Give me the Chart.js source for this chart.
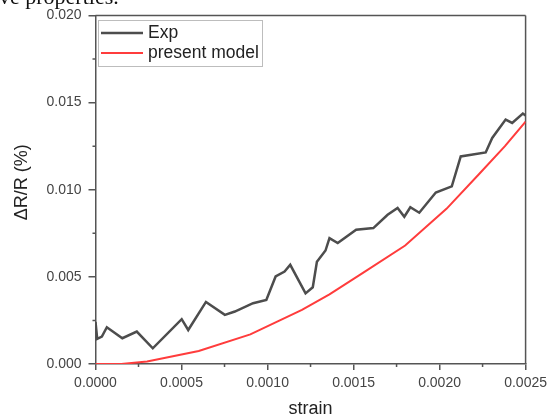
<!DOCTYPE html>
<html><head><meta charset="utf-8">
<script src="https://cdn.jsdelivr.net/npm/chart.js@4.4.0/dist/chart.umd.min.js"></script>
<style>
html,body{margin:0;padding:0;background:#fff;overflow:hidden;width:552px;height:416px;}
#wrap{position:relative;width:552px;height:416px;overflow:hidden;}
canvas{position:absolute;left:0;top:0;}
#cap{position:absolute;left:-1px;top:-14px;font-family:"Liberation Serif","Times New Roman",serif;font-size:22px;line-height:22px;color:#111;white-space:nowrap;}
</style></head><body>
<div id="wrap"><canvas id="c" width="552" height="416"></canvas><div id="cap">ve properties.</div></div>
<script>
// ---- data ----
const expStrain = [0, 0.00001, 0.000037, 0.000066, 0.000156, 0.00024, 0.000333, 0.000501, 0.000539, 0.000642, 0.000752, 0.00081, 0.000916, 0.000993, 0.001047, 0.001099, 0.001132, 0.001221, 0.001263, 0.001287, 0.001337, 0.00136, 0.001408, 0.001515, 0.001615, 0.001698, 0.001756, 0.001795, 0.00183, 0.001882, 0.001978, 0.002071, 0.002123, 0.002268, 0.002306, 0.002384, 0.002422, 0.002484, 0.0025];
const expValues = [0.00241, 0.00144, 0.00157, 0.00211, 0.00148, 0.00186, 0.00090, 0.00257, 0.00195, 0.00356, 0.00282, 0.00301, 0.00349, 0.00368, 0.00502, 0.00530, 0.00569, 0.00405, 0.00440, 0.00586, 0.00651, 0.00722, 0.00694, 0.00770, 0.00780, 0.00856, 0.00895, 0.00845, 0.00899, 0.00868, 0.00984, 0.01019, 0.01191, 0.01214, 0.01297, 0.01402, 0.01383, 0.01437, 0.01425];
const modelStrain = [0, 0.00015, 0.0003, 0.0006, 0.0009, 0.0012, 0.00136, 0.00155, 0.0018, 0.00204, 0.00223, 0.00238, 0.0025];
const modelValues = [0, 0, 0.00015, 0.00075, 0.0017, 0.0031, 0.0040, 0.0052, 0.0068, 0.0089, 0.0109, 0.0125, 0.0139];
const seriesNames = ["Exp", "present model"];
const xTicks = [0, 0.0005, 0.001, 0.0015, 0.002, 0.0025];
const yTicks = [0, 0.005, 0.01, 0.015, 0.02];
const xMinorTicks = [0.00025, 0.00075, 0.00125, 0.00175, 0.00225];
const yMinorTicks = [0.0025, 0.0075, 0.0125, 0.0175];
const xTitle = "strain";
const yTitle = "ΔR/R (%)";

const FONT = '"Liberation Sans", Arial, Helvetica, sans-serif';
const AXIS = '#555';

const framePlugin = {
  id: 'frame',
  beforeDatasetsDraw(chart) {
    const {ctx, chartArea: a, scales: {x, y}} = chart;
    ctx.save();
    ctx.strokeStyle = AXIS;
    ctx.lineWidth = 1.5;
    ctx.beginPath();
    ctx.moveTo(a.left, a.top); ctx.lineTo(a.right, a.top);
    ctx.moveTo(a.right, a.top); ctx.lineTo(a.right, a.bottom);
    xMinorTicks.forEach(v => { const px = x.getPixelForValue(v); ctx.moveTo(px, a.bottom); ctx.lineTo(px, a.bottom + 3); });
    yMinorTicks.forEach(v => { const py = y.getPixelForValue(v); ctx.moveTo(a.left, py); ctx.lineTo(a.left - 3, py); });
    ctx.stroke();
    ctx.restore();
  },
  afterDatasetsDraw(chart) {
    const {ctx} = chart;
    const ds = chart.data.datasets;
    ctx.save();
    ctx.strokeStyle = '#bdbdbd';
    ctx.lineWidth = 1;
    ctx.strokeRect(98.5, 20.5, 164, 46);
    const rows = [33, 53];
    ds.forEach((d, i) => {
      ctx.strokeStyle = d.borderColor;
      ctx.lineWidth = d.borderWidth;
      ctx.beginPath();
      ctx.moveTo(101, rows[i]); ctx.lineTo(143, rows[i]);
      ctx.stroke();
      ctx.fillStyle = '#222';
      ctx.font = '17.5px ' + FONT;
      ctx.textBaseline = 'middle';
      ctx.textAlign = 'left';
      ctx.fillText(d.label, 148, rows[i]);
    });
    ctx.restore();
  }
};

new Chart(document.getElementById('c'), {
  type: 'line',
  data: {
    datasets: [
      { label: seriesNames[0], data: expStrain.map((s, i) => ({x: s, y: expValues[i]})),
        borderColor: '#4d4d4d', borderWidth: 2.5, pointRadius: 0, tension: 0, fill: false },
      { label: seriesNames[1], data: modelStrain.map((s, i) => ({x: s, y: modelValues[i]})),
        borderColor: '#ff3c3c', borderWidth: 2, pointRadius: 0, tension: 0, fill: false }
    ]
  },
  options: {
    responsive: false,
    animation: false,
    layout: { padding: { left: 0, right: 25, top: 15, bottom: 0 } },
    plugins: { legend: { display: false }, tooltip: { enabled: false } },
    scales: {
      x: {
        type: 'linear', min: 0, max: 0.0025,
        afterFit(s) { s.height = 52; },
        afterBuildTicks(s) { s.ticks = xTicks.map(v => ({value: v})); },
        ticks: { callback: v => Number(v).toFixed(4), font: { size: 14, family: FONT }, color: '#444', padding: 5, maxRotation: 0, autoSkip: false },
        grid: { drawOnChartArea: false, drawTicks: true, tickLength: 6, color: AXIS, lineWidth: 1.5 },
        border: { display: true, color: AXIS, width: 1.5 },
        title: { display: true, text: xTitle, font: { size: 18, family: FONT, lineHeight: 0.8 }, color: '#222', padding: 0 }
      },
      y: {
        type: 'linear', min: 0, max: 0.02,
        afterFit(s) { s.width = 95.5; },
        afterBuildTicks(s) { s.ticks = yTicks.map(v => ({value: v})); },
        ticks: { callback: v => Number(v).toFixed(3), font: { size: 14, family: FONT }, color: '#444', padding: 7, autoSkip: false },
        grid: { drawOnChartArea: false, drawTicks: true, tickLength: 7, color: AXIS, lineWidth: 1.5 },
        border: { display: true, color: AXIS, width: 1.5 },
        title: { display: true, text: '   ' + yTitle, font: { size: 18, family: FONT, lineHeight: 1.2 }, color: '#222', padding: { top: 11, bottom: 0 } }
      }
    }
  },
  plugins: [framePlugin]
});
</script>
</body></html>
